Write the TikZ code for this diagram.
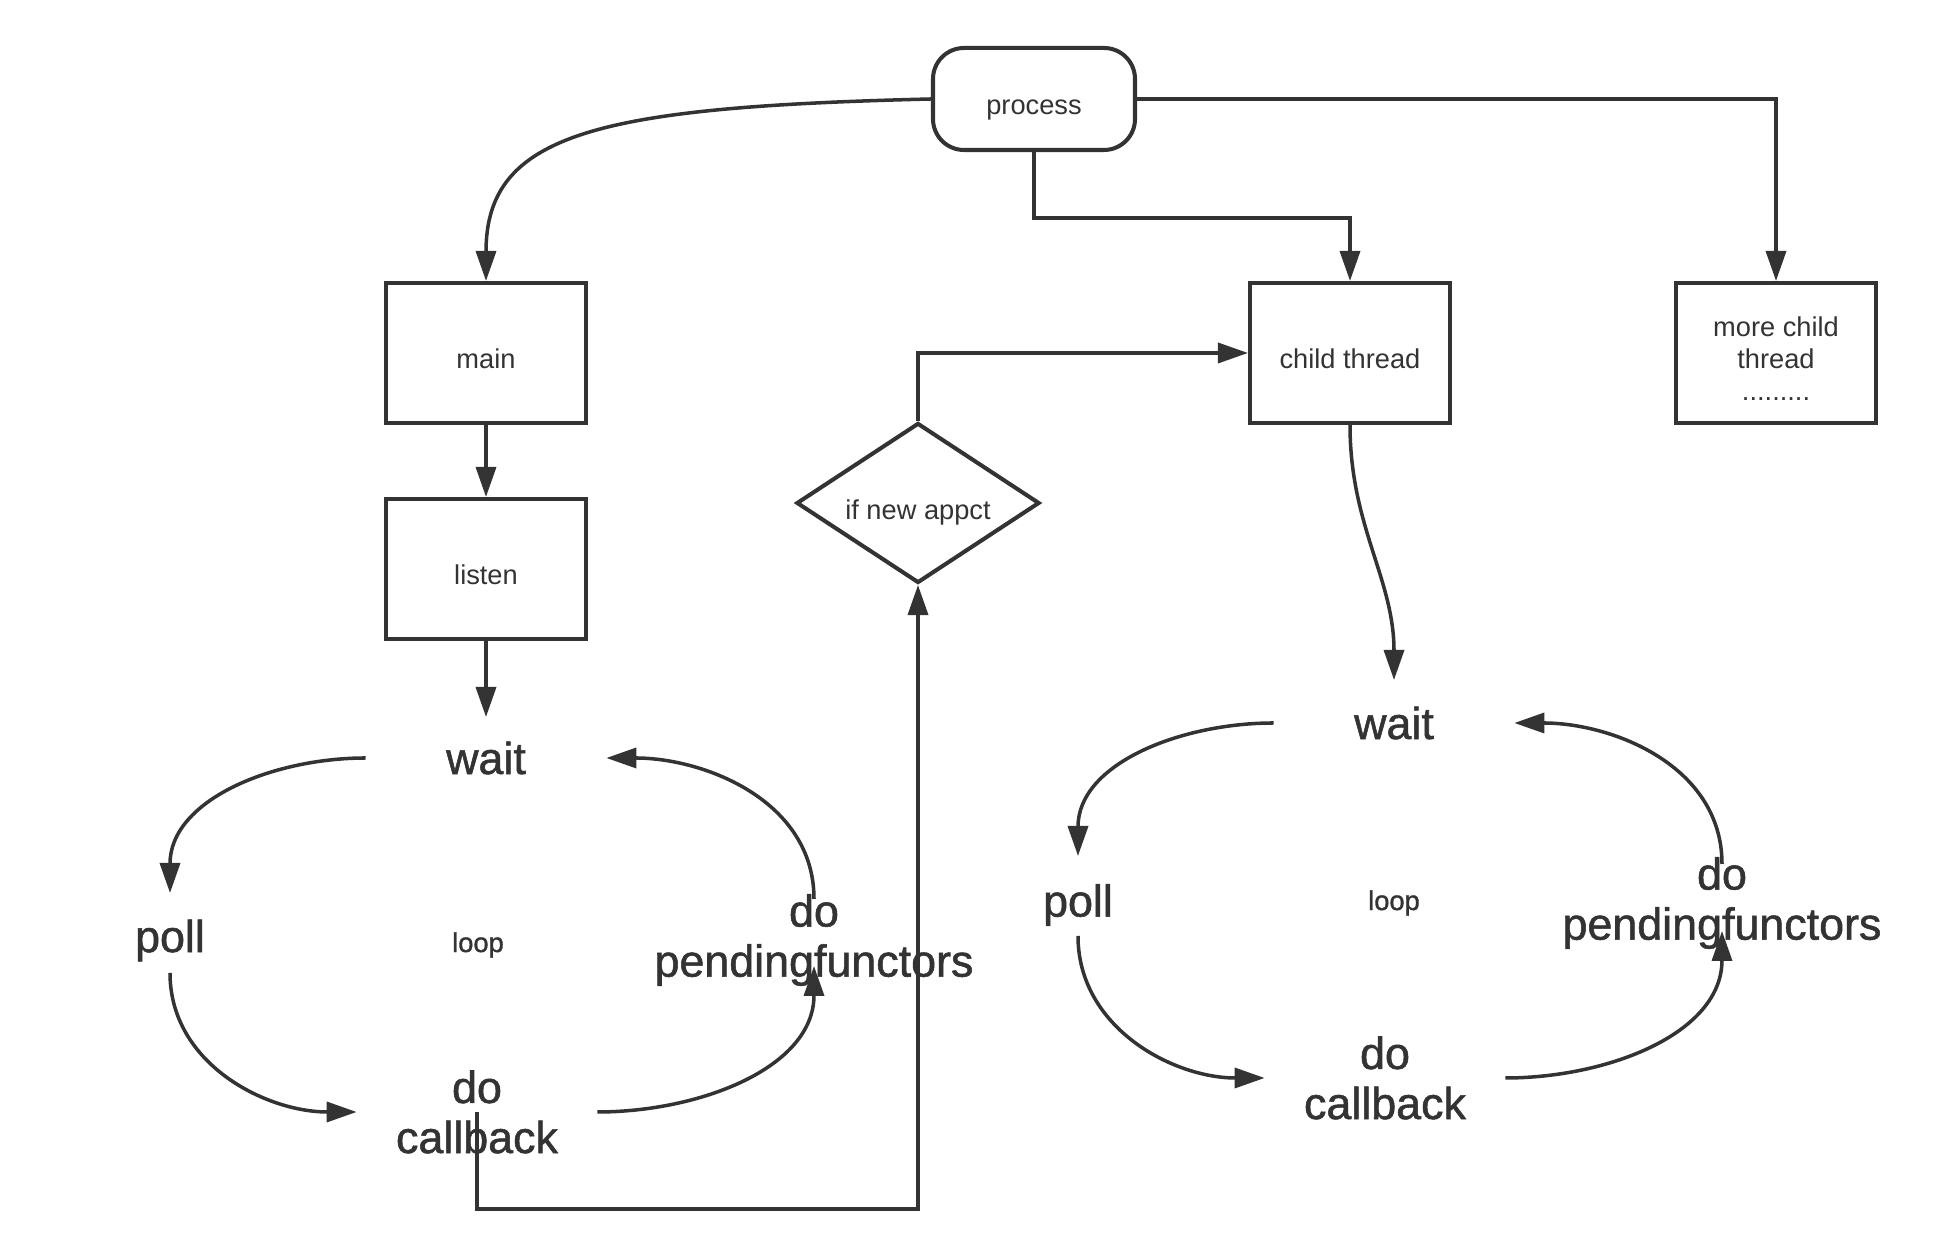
\documentclass[tikz,border=0pt]{standalone}
\usepackage{fontspec}
\setmainfont{Liberation Sans}
\newfontfamily\medfont[FakeBold=1.2]{Liberation Sans}
\usepackage{xcolor}
\definecolor{ink}{HTML}{333333}
\usetikzlibrary{arrows.meta,shapes.geometric}

\begin{document}
\begin{tikzpicture}[
    box/.style={draw=ink, line width=2.3pt, minimum width=4cm, minimum height=2.8cm, text=ink, font=\fontsize{15.5}{18.2}\selectfont, align=center, text height=17.8pt, text depth=0pt},
    arr/.style={draw=ink, line width=2pt, -{Triangle[length=0.6cm,width=0.4cm]}},
    big/.style={text=ink, font=\medfont\fontsize{25.5}{28.5}\selectfont, align=center, inner sep=0pt},
    wide/.style={big, minimum width=4.8cm},
    small/.style={text=ink, font=\fontsize{15.5}{18.2}\selectfont, inner sep=0pt}]
    \useasboundingbox (0,0) rectangle (39.16,25.18);

    % === TOP: PROCESS AND THREADS ===
    \node[box, rounded corners=0.62cm, minimum width=4.04cm, minimum height=2.04cm] (proc) at (20.68,23.2) {process};
    \node[box] (main) at (9.72,18.12) {main};
    \node[box] (listen) at (9.72,13.8) {listen};
    \node[box] (child) at (27.0,18.12) {child thread};
    \node[box, text height=, text depth=] (more) at (35.52,18.12) {\rule{0pt}{1.17em}more child\\thread\\.........};
    \node[draw=ink, line width=2.3pt, diamond, aspect=1.52, minimum width=4.86cm, minimum height=3.2cm, small, text height=18.3pt, text depth=0pt] (dia) at (18.36,15.12) {if new appct};

    \draw[arr] (proc.west) .. controls +(-6.66,-0.16) and +(0,2.96) .. (main.north);
    \draw[arr] (proc.south) -- ++(0,-1.32) -| (child.north);
    \draw[arr] (proc.east) -| (more.north);
    \draw[arr] (main.south) -- (listen.north);

    % === LEFT: MAIN LOOP ===
    \node[wide] (waitL) at (9.72,10.02) {wait};
    \node[big] (pollL) at (3.40,6.37) {poll};
    \node[small, font=\medfont\fontsize{15.5}{18.2}\selectfont] (loopL) at (9.56,6.28) {loop};
    \node[big] (pendL) at (16.28,6.38) {do\\pendingfunctors};
    \node[wide] (cbL) at (9.54,2.94) {do\\callback};

    \draw[arr] (listen.south) -- ([yshift=0.82cm]waitL.center);
    \draw[arr] (waitL.west) to[out=180, in=90] ([yshift=0.95cm]pollL.center);
    \draw[arr] ([yshift=-0.65cm]pollL.center) to[out=-90, in=180] (cbL.west);
    \draw[arr] (cbL.east) to[out=0, in=-90] ([yshift=-0.52cm]pendL.center);
    \draw[arr] ([yshift=0.82cm]pendL.center) to[out=90, in=0] (waitL.east);

    % new connection goes to a child thread
    \draw[arr] (cbL.center) -- ++(0,-1.94) -| (dia.south);
    \draw[arr] (dia.north) |- (child.west);

    % === RIGHT: CHILD THREAD LOOP ===
    \node[wide] (waitR) at (27.88,10.72) {wait};
    \node[big] (pollR) at (21.56,7.08) {poll};
    \node[small, font=\medfont\fontsize{15.5}{18.2}\selectfont] (loopR) at (27.88,7.12) {loop};
    \node[big] (pendR) at (34.44,7.12) {do\\pendingfunctors};
    \node[wide] (cbR) at (27.70,3.62) {do\\callback};

    \draw[arr] (child.south) to[out=-90, in=90] ([yshift=0.86cm]waitR.center);
    \draw[arr] (waitR.west) to[out=180, in=90] ([yshift=0.98cm]pollR.center);
    \draw[arr] ([yshift=-0.62cm]pollR.center) to[out=-90, in=180] (cbR.west);
    \draw[arr] (cbR.east) to[out=0, in=-90] ([yshift=-0.56cm]pendR.center);
    \draw[arr] ([yshift=0.78cm]pendR.center) to[out=90, in=0] (waitR.east);
\end{tikzpicture}
\end{document}
